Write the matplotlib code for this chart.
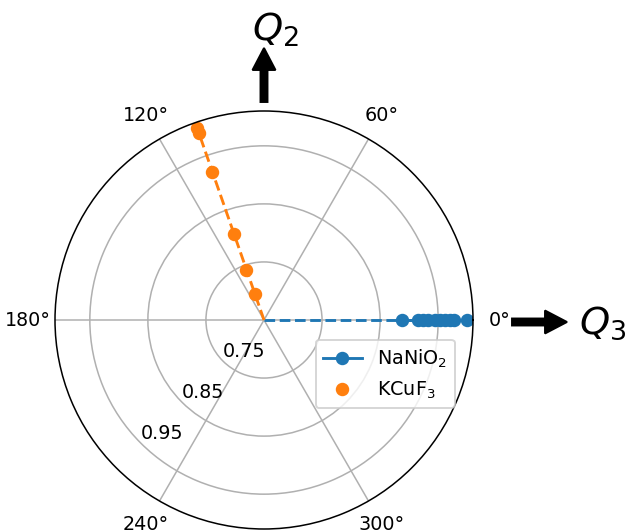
import numpy as np
import matplotlib
matplotlib.use("Agg")
import matplotlib.pyplot as plt
from matplotlib.patches import FancyArrow

# Data
nanio2_theta_deg = 0.0
nanio2_r = [0.888, 0.915, 0.924, 0.932, 0.944, 0.953, 0.961, 0.970, 0.978, 1.0]
kcuf3_theta_deg = 109.2
kcuf3_r = [1.0, 0.991, 0.92, 0.807, 0.742, 0.697]
r_min, r_max = 0.65, 1.01
r_ticks = [0.75, 0.85, 0.95]
theta_ticks = [0, 60, 120, 180, 240, 300]
labels = ["NaNiO$_2$", "KCuF$_3$"]

DPI = 138
W, H = 629, 531
fig = plt.figure(figsize=(W / DPI, H / DPI), dpi=DPI)
ax = fig.add_axes([55 / W, 2 / H, 418 / W, 418 / H], projection="polar")

c1, c2 = "#1f77b4", "#ff7f0e"
t1 = np.deg2rad(nanio2_theta_deg)
t2 = np.deg2rad(kcuf3_theta_deg)

ax.plot([t1] * len(nanio2_r), nanio2_r, "o-", color=c1, label=labels[0])
ax.plot([t2] * len(kcuf3_r), kcuf3_r, "o", color=c2, label=labels[1])
ax.plot([t1, t1], [r_min, r_max], "--", color=c1)
ax.plot([t2, t2], [r_min, r_max], "--", color=c2)

ax.set_rlim(r_min, r_max)
ax.set_rticks(r_ticks)
ax.set_thetagrids(theta_ticks)
ax.set_rlabel_position(225)
ax.legend(loc="center", bbox_to_anchor=(0.79, 0.371))

tr = fig.dpi_scale_trans
def px(x, y_top):
    return x / DPI, (H - y_top) / DPI

# Q2 arrow (up)
x0, y0 = px(264, 102)
fig.add_artist(FancyArrow(x0, y0, 0, 54 / DPI, width=7 / DPI, head_width=23 / DPI,
                          head_length=22 / DPI, length_includes_head=True,
                          color="k", transform=tr))
# Q3 arrow (right)
x0, y0 = px(512, 322)
fig.add_artist(FancyArrow(x0, y0, 55 / DPI, 0, width=7 / DPI, head_width=23 / DPI,
                          head_length=22 / DPI, length_includes_head=True,
                          color="k", transform=tr))

fig.text(275 / W, 1 - 30 / H, "$Q_2$", fontsize=20, ha="center", va="center")
fig.text(603 / W, 1 - 323 / H, "$Q_3$", fontsize=20, ha="center", va="center")

fig.savefig("out.png", dpi=DPI)
